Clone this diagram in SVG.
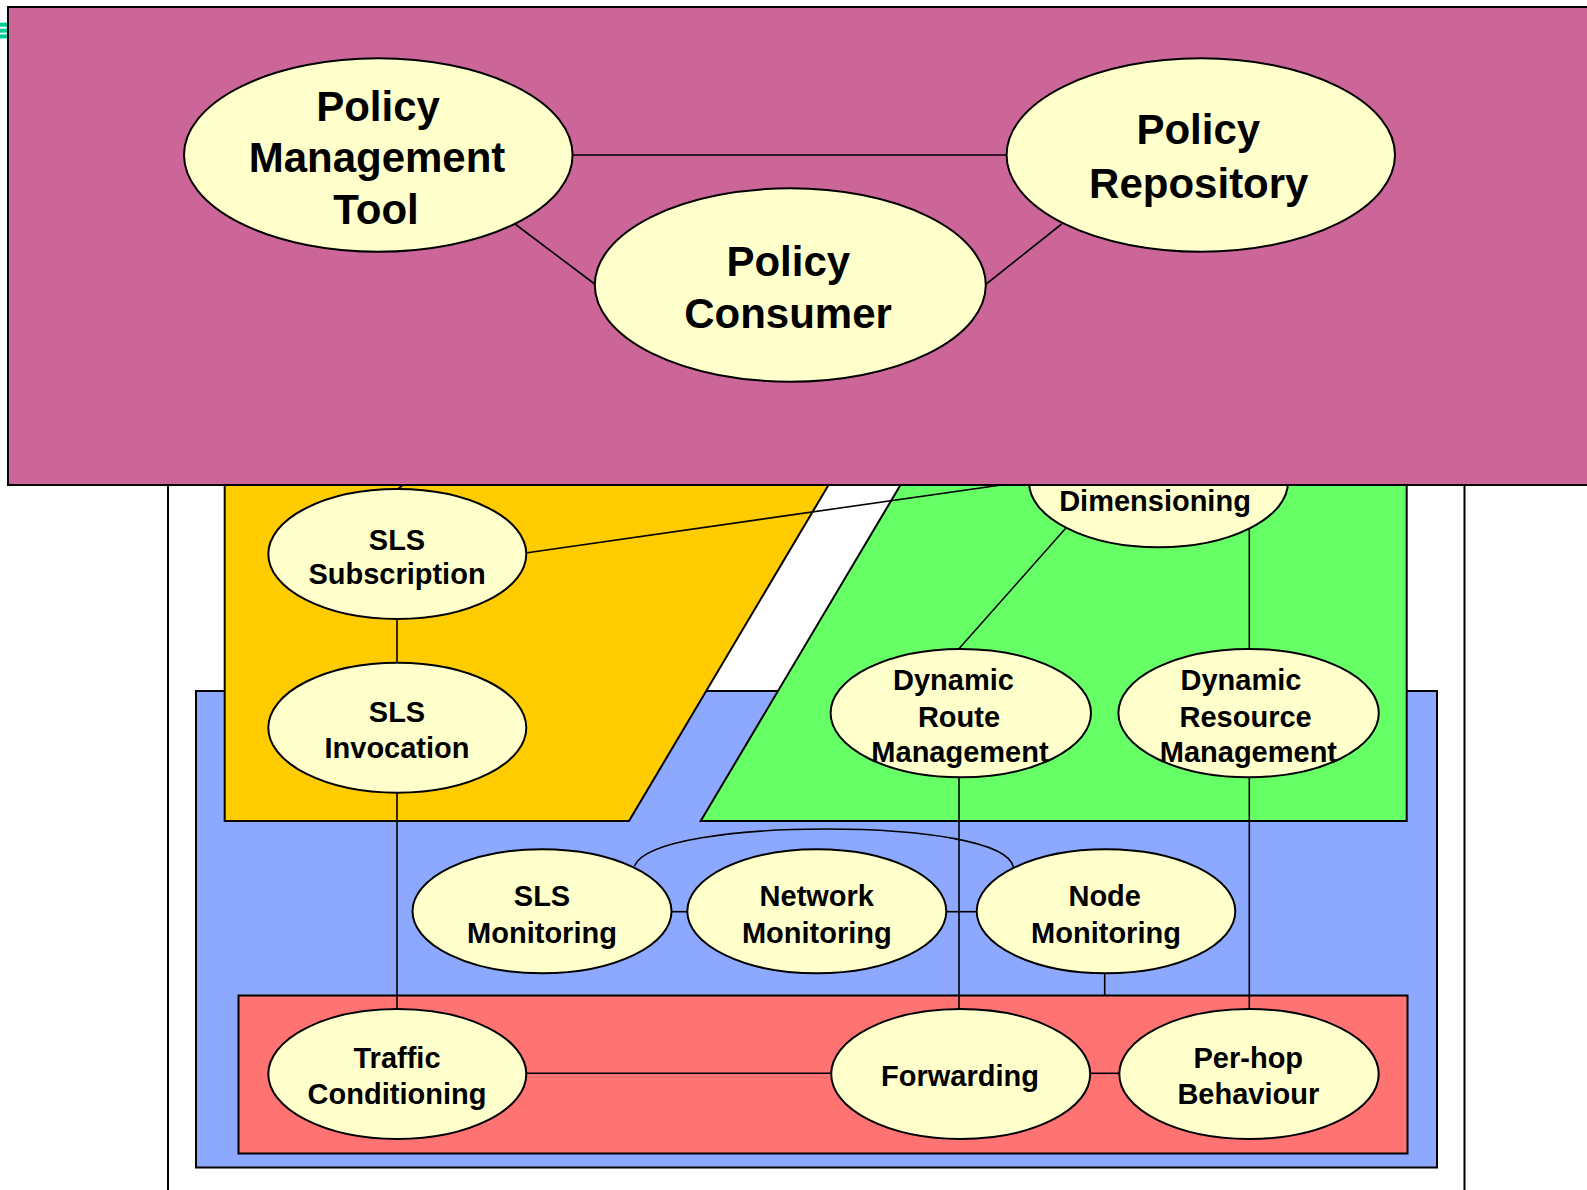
<svg xmlns="http://www.w3.org/2000/svg" width="1587" height="1190" viewBox="0 0 1587 1190">
<style>
.node ellipse{fill:#FFFFCC;stroke:#000;stroke-width:2}
.t1{font-family:"Liberation Sans",Arial,sans-serif;font-weight:bold;font-size:42px;text-anchor:middle;fill:#000}
.t2{font-family:"Liberation Sans",Arial,sans-serif;font-weight:bold;font-size:29px;text-anchor:middle;fill:#000}
.conn line,.conn path{stroke:#000;stroke-width:1.6;fill:none}
.area{stroke:#000;stroke-width:2}
</style>
<rect width="1587" height="1190" fill="#FFFFFF"/>
<g id="areas">
<rect class="area" x="168" y="300" width="1296.5" height="1000" fill="#FFFFFF"/>
<rect class="area" x="196" y="691" width="1241" height="476.5" fill="#8CA9FF"/>
<polygon class="area" points="224.7,400 879,400 629,821 224.7,821" fill="#FFCC00"/>
<polygon class="area" points="951,400 1406.7,400 1406.7,821 700.7,821" fill="#66FF66"/>
<rect class="area" x="238.5" y="995.5" width="1169" height="158" fill="#FF7373"/>
</g>
<g id="connectors-lower" class="conn">
<line x1="397" y1="619" x2="397" y2="663"/>
<line x1="397" y1="793" x2="397" y2="1009"/>
<line x1="397.8" y1="489" x2="412" y2="478"/>
<line x1="527.2" y1="552.7" x2="1010" y2="483.7"/>
<line x1="1065.7" y1="528.3" x2="958.7" y2="649"/>
<line x1="1249.3" y1="527.5" x2="1249.3" y2="649"/>
<line x1="959" y1="777" x2="959" y2="1009"/>
<line x1="1249.3" y1="777" x2="1249.3" y2="1009"/>
<line x1="671" y1="911.7" x2="687.5" y2="911.7"/>
<line x1="946.5" y1="911.7" x2="977" y2="911.7"/>
<path d="M634.5,866 C645,840 740,829 825,829 C925,829 1008,842 1013.4,867"/>
<line x1="1104.7" y1="973" x2="1104.7" y2="995.5"/>
<line x1="526.3" y1="1073.3" x2="831" y2="1073.3"/>
<line x1="1090" y1="1073.3" x2="1119.5" y2="1073.3"/>
</g>
<g id="dimensioning" class="node">
<ellipse cx="1158.5" cy="482" rx="129.5" ry="65.3"/>
<text class="t2" x="1155" y="511">Dimensioning</text>
</g>
<g id="sls-subscription" class="node">
<ellipse cx="397.3" cy="554" rx="129" ry="65"/>
<text class="t2" x="397" y="549.5">SLS</text>
<text class="t2" x="397" y="583.5">Subscription</text>
</g>
<g id="sls-invocation" class="node">
<ellipse cx="397.3" cy="727.7" rx="129" ry="65"/>
<text class="t2" x="397" y="721.7">SLS</text>
<text class="t2" x="397" y="758.3">Invocation</text>
</g>
<g id="dynamic-route-management" class="node">
<ellipse cx="960.8" cy="713.1" rx="130.2" ry="64.2"/>
<text class="t2" x="953.5" y="690">Dynamic</text>
<text class="t2" x="959" y="726.7">Route</text>
<text class="t2" x="960" y="761.7">Management</text>
</g>
<g id="dynamic-resource-management" class="node">
<ellipse cx="1248.6" cy="713.1" rx="130.2" ry="64.2"/>
<text class="t2" x="1241" y="690">Dynamic</text>
<text class="t2" x="1245.6" y="726.7">Resource</text>
<text class="t2" x="1248.4" y="761.7">Management</text>
</g>
<g id="sls-monitoring" class="node">
<ellipse cx="542" cy="911.3" rx="129.5" ry="62"/>
<text class="t2" x="542" y="906">SLS</text>
<text class="t2" x="542" y="942.7">Monitoring</text>
</g>
<g id="network-monitoring" class="node">
<ellipse cx="816.8" cy="911.3" rx="129.5" ry="62"/>
<text class="t2" x="816.8" y="906">Network</text>
<text class="t2" x="816.8" y="942.7">Monitoring</text>
</g>
<g id="node-monitoring" class="node">
<ellipse cx="1106" cy="911.3" rx="129.3" ry="62"/>
<text class="t2" x="1104.7" y="906">Node</text>
<text class="t2" x="1106" y="942.7">Monitoring</text>
</g>
<g id="traffic-conditioning" class="node">
<ellipse cx="397.3" cy="1074" rx="129" ry="65"/>
<text class="t2" x="397" y="1067.7">Traffic</text>
<text class="t2" x="397" y="1104">Conditioning</text>
</g>
<g id="forwarding" class="node">
<ellipse cx="960.7" cy="1074" rx="129.5" ry="65"/>
<text class="t2" x="960" y="1086">Forwarding</text>
</g>
<g id="per-hop-behaviour" class="node">
<ellipse cx="1249" cy="1074" rx="129.7" ry="65"/>
<text class="t2" x="1248.3" y="1067.5">Per-hop</text>
<text class="t2" x="1248.3" y="1104">Behaviour</text>
</g>
<g id="policy-area">
<g stroke="#00CC99" stroke-width="4">
<line x1="0" y1="24.7" x2="8" y2="24.7"/>
<line x1="0" y1="30.7" x2="8" y2="30.7"/>
<line x1="0" y1="36.4" x2="8" y2="36.4"/>
</g>
<rect x="8" y="7" width="1600" height="478" fill="#CC6699" stroke="#000" stroke-width="2"/>
</g>
<g id="connectors-upper" class="conn">
<line x1="572.7" y1="155" x2="1006.7" y2="155"/>
<line x1="515" y1="224" x2="596" y2="285"/>
<line x1="985" y1="285" x2="1061.7" y2="224"/>
</g>
<g id="policy-management-tool" class="node">
<ellipse cx="378.3" cy="155" rx="194.3" ry="96.7"/>
<text class="t1" x="378" y="121">Policy</text>
<text class="t1" x="377" y="171.7">Management</text>
<text class="t1" x="376" y="224.3">Tool</text>
</g>
<g id="policy-consumer" class="node">
<ellipse cx="790.3" cy="285" rx="195.5" ry="96.7"/>
<text class="t1" x="788.3" y="275.7">Policy</text>
<text class="t1" x="788" y="328.3">Consumer</text>
</g>
<g id="policy-repository" class="node">
<ellipse cx="1200.8" cy="155" rx="194.2" ry="96.7"/>
<text class="t1" x="1198.3" y="144.3">Policy</text>
<text class="t1" x="1198.8" y="197.7">Repository</text>
</g>
</svg>
